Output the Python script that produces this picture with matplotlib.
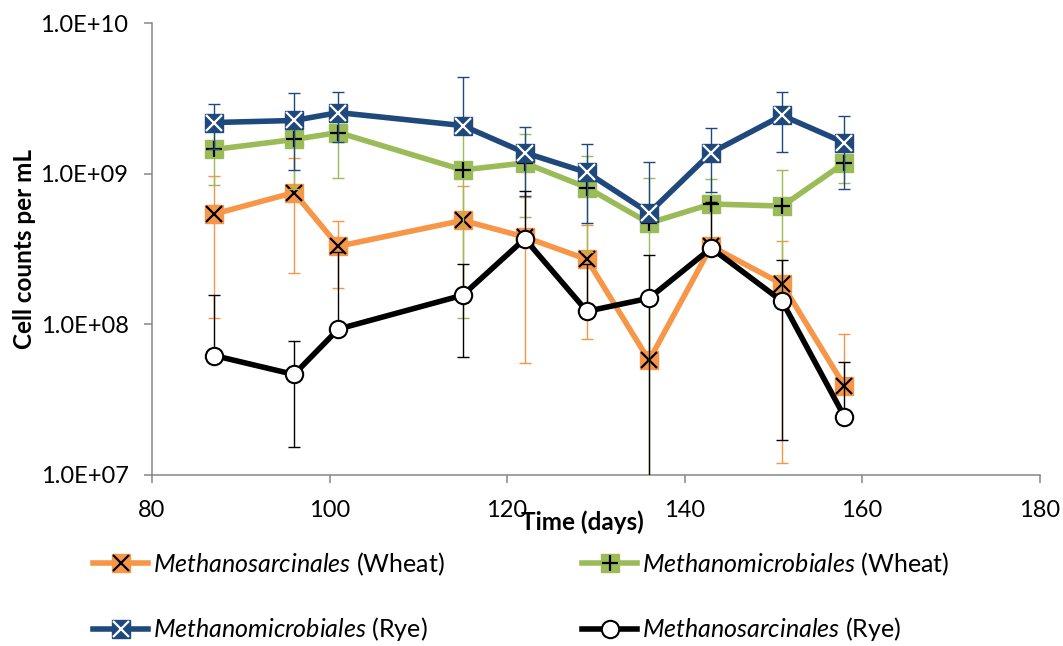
import numpy as np
import matplotlib
matplotlib.use("Agg")
import matplotlib.pyplot as plt
from matplotlib.ticker import FixedLocator, FuncFormatter, NullLocator

plt.rcParams['font.family'] = ['Lato', 'DejaVu Sans']
plt.rcParams['mathtext.fontset'] = 'custom'
plt.rcParams['mathtext.it'] = 'Lato:italic'
plt.rcParams['mathtext.rm'] = 'Lato'

# sampling days
days = [87, 96, 101, 115, 122, 129, 136, 143, 151, 158]

# cell counts per mL (mean) and standard deviation
sarc_wheat = [5.4e8, 7.5e8, 3.3e8, 4.9e8, 3.8e8, 2.7e8, 5.75e7, 3.3e8, 1.85e8, 3.9e7]
sarc_wheat_err = [4.3e8, 5.3e8, 1.55e8, 3.4e8, 3.25e8, 1.9e8, 8.3e7, 2.5e7, 1.73e8, 4.7e7]

micro_wheat = [1.45e9, 1.69e9, 1.88e9, 1.06e9, 1.18e9, 8.1e8, 4.7e8, 6.3e8, 6.1e8, 1.18e9]
micro_wheat_err = [6.1e8, 9.0e8, 9.4e8, 9.5e8, 6.6e8, 5.1e8, 4.65e8, 3.0e8, 4.5e8, 3.1e8]

micro_rye = [2.19e9, 2.26e9, 2.55e9, 2.09e9, 1.38e9, 1.02e9, 5.5e8, 1.38e9, 2.44e9, 1.61e9]
micro_rye_err = [7.4e8, 1.2e9, 9.2e8, 2.28e9, 6.7e8, 5.5e8, 6.5e8, 6.2e8, 1.04e9, 8.2e8]

sarc_rye = [6.2e7, 4.64e7, 9.3e7, 1.56e8, 3.7e8, 1.22e8, 1.49e8, 3.21e8, 1.42e8, 2.44e7]
sarc_rye_err = [9.4e7, 3.1e7, 2.1e8, 9.5e7, 4.0e8, 1.3e8, 1.4e8, 3.3e8, 1.25e8, 3.14e7]

labels = [r'$\mathit{Methanosarcinales}$ (Wheat)',
          r'$\mathit{Methanomicrobiales}$ (Wheat)',
          r'$\mathit{Methanomicrobiales}$ (Rye)',
          r'$\mathit{Methanosarcinales}$ (Rye)']

ORANGE = '#F79646'
GREEN = '#9BBB59'
BLUE = '#1F497D'

fig = plt.figure(figsize=(10.63, 6.46), dpi=100)
ax = fig.add_axes([0.143, 0.265, 0.835, 0.699])
ax.set_yscale('log')


def draw_series(vals, errs, color, z, inner=None, inner_color='k', circle=False):
    vals = np.array(vals)
    errs = np.array(errs)
    # log axis: a lower bar that would go below zero is left out
    lower = np.where(vals - errs > 0, errs, 0)
    ax.errorbar(days, vals, yerr=[lower, errs], fmt='none', ecolor=color,
                elinewidth=1.0, capsize=4.3, capthick=1.0, zorder=z)
    if circle:
        line, = ax.plot(days, vals, color=color, lw=4, marker='o', ms=12.5,
                        mfc='white', mec=color, mew=1.5, zorder=z + 0.1)
        return (line,)
    line, = ax.plot(days, vals, color=color, lw=4, marker='s', ms=12.5,
                    mfc=color, mec=color, zorder=z + 0.1)
    mark, = ax.plot(days, vals, ls='none', marker=inner, ms=11, mew=1.6,
                    color=inner_color, zorder=z + 0.2)
    return (line, mark)


h_sw = draw_series(sarc_wheat, sarc_wheat_err, ORANGE, 2, 'x', 'black')
h_mw = draw_series(micro_wheat, micro_wheat_err, GREEN, 3, '+', 'black')
h_mr = draw_series(micro_rye, micro_rye_err, BLUE, 4, 'x', 'white')
h_sr = draw_series(sarc_rye, sarc_rye_err, 'black', 5, circle=True)

ax.set_xlim(80, 180)
ax.set_ylim(1e7, 1e10)
ax.xaxis.set_major_locator(FixedLocator([80, 100, 120, 140, 160, 180]))
ax.yaxis.set_major_locator(FixedLocator([1e7, 1e8, 1e9, 1e10]))
ax.yaxis.set_minor_locator(NullLocator())
ax.yaxis.set_major_formatter(FuncFormatter(lambda v, p: f"{v:.1E}"))

for s in ['top', 'right']:
    ax.spines[s].set_visible(False)
for s in ['left', 'bottom']:
    ax.spines[s].set_color('#868686')
    ax.spines[s].set_linewidth(1.1)
ax.tick_params(axis='both', which='major', direction='out', length=6,
               width=1.1, color='#868686', labelsize=17, labelcolor='black')
ax.tick_params(axis='x', pad=12)
ax.tick_params(axis='y', pad=11)

ax.set_xlabel('Time (days)', fontsize=17.5, fontweight='bold')
ax.xaxis.set_label_coords(0.485, -0.078)
ax.set_ylabel('Cell counts per mL', fontsize=17.5, fontweight='bold')
ax.yaxis.set_label_coords(-0.131, 0.5)

leg = fig.legend(handles=[h_sw, h_mr, h_mw, h_sr],
                 labels=[labels[0], labels[2], labels[1], labels[3]],
                 ncol=2, loc='upper left', bbox_to_anchor=(0.0875, 0.148),
                 frameon=False, fontsize=18, handlelength=2.2, handletextpad=0.2,
                 columnspacing=5.5, labelspacing=1.5, numpoints=1,
                 borderpad=0, borderaxespad=0)

fig.savefig('out.png', dpi=100)
